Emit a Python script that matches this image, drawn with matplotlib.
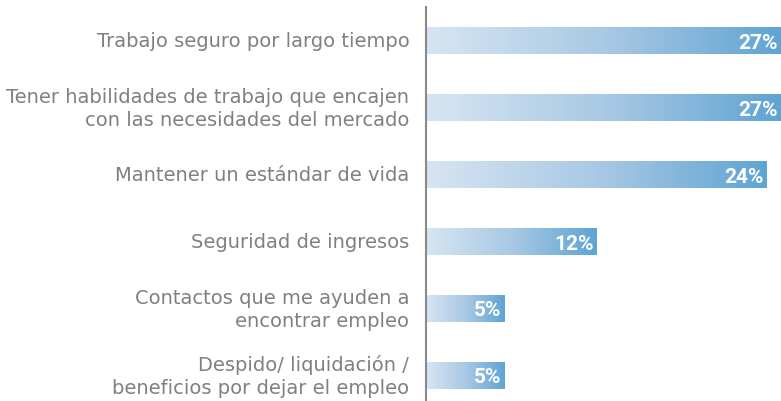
import numpy as np
import matplotlib
matplotlib.use("Agg")
import matplotlib.pyplot as plt
from matplotlib.colors import LinearSegmentedColormap

# datos
categorias = [
    "Trabajo seguro por largo tiempo",
    "Tener habilidades de trabajo que encajen\ncon las necesidades del mercado",
    "Mantener un estándar de vida",
    "Seguridad de ingresos",
    "Contactos que me ayuden a\nencontrar empleo",
    "Despido/ liquidación /\nbeneficios por dejar el empleo",
]
valores = [27.0, 27.0, 25.9, 13.0, 6.0, 6.0]   # longitud de barra
etiquetas = ["27%", "27%", "24%", "12%", "5%", "5%"]

plt.rcParams['font.family'] = ['DejaVu Sans']

fig = plt.figure(figsize=(7.81, 4.02), dpi=100)
ax = fig.add_axes([426 / 781, 0.0, 1 - 426 / 781, (402 - 8) / 402])

cmap = LinearSegmentedColormap.from_list("azul", ["#d7e5f2", "#a9c9e4", "#5fa4d3"])
grad = np.linspace(0, 1, 256).reshape(1, -1)
alto = 0.40

for i, (v, lab) in enumerate(zip(valores, etiquetas)):
    ax.imshow(grad, extent=[0, v, i + alto / 2, i - alto / 2], cmap=cmap,
              aspect='auto', interpolation='bicubic', zorder=2)
    ax.text(v - 0.25, i + 0.02, lab, color='white', fontsize=15, fontweight='bold',
            family='Roboto', ha='right', va='center', zorder=3)

ax.set_xlim(0, 27.0)
ax.set_ylim(5.38, -0.507)

ax.set_yticks(range(len(categorias)))
ax.set_yticklabels(categorias, fontsize=14, color='#7d8084', linespacing=1.25)
for t in ax.get_yticklabels():
    t.set_verticalalignment('center')
ax.tick_params(axis='y', length=0, pad=12)
ax.set_xticks([])

for s in ['top', 'right', 'bottom']:
    ax.spines[s].set_visible(False)
ax.spines['left'].set_color('#8a8a8a')
ax.spines['left'].set_linewidth(1.5)

fig.savefig("out.png", dpi=100)
